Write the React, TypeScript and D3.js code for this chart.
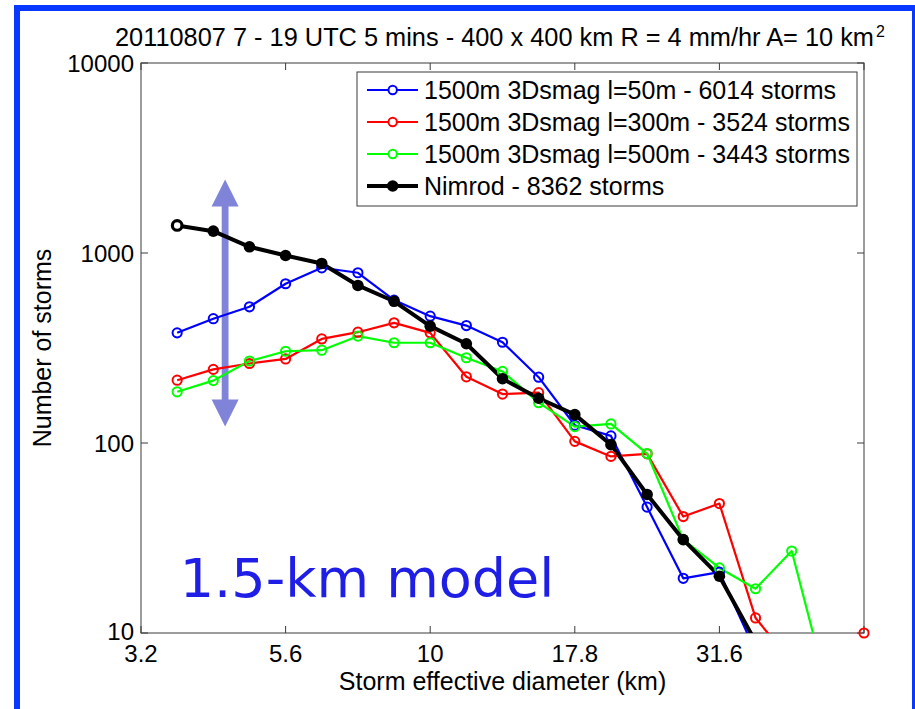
import React from 'react';
import * as d3 from 'd3';

// Storm effective diameter bin centres (km)
const diameters = [3.652, 4.217, 4.870, 5.623, 6.494, 7.499, 8.660, 10, 11.548, 13.335, 15.399, 17.783, 20.535, 23.714, 27.384, 31.623, 36.517, 42.170, 48.697, 56.234];

const blueCounts: (number | null)[] = [380, 451, 521, 689, 836, 787, 565, 465, 415, 339, 222, 124, 109, 46, 19.4, 20.9, 8, null, null, null];
const redCounts: (number | null)[] = [214, 244, 262, 277, 353, 383, 429, 380, 223, 181, 184, 102, 85, 87.7, 41, 48, 12, 7, null, 10];
const greenCounts: (number | null)[] = [186, 213, 270, 304, 308, 365, 337, 337, 281, 238, 163, 122, 126, 88, 31, 22, 17.1, 27, 5, null];
const nimrodCounts: (number | null)[] = [1396, 1303, 1078, 970, 881, 675, 557, 412, 333, 218, 172, 141, 98, 53.6, 31, 19.9, 9, null, null, null];

const seriesNames = [
  '1500m 3Dsmag l=50m - 6014 storms',
  '1500m 3Dsmag l=300m - 3524 storms',
  '1500m 3Dsmag l=500m - 3443 storms',
  'Nimrod - 8362 storms',
];

const xTickValues = [3.1623, 5.6234, 10, 17.783, 31.623, 56.234];
const xTickLabels = ['3.2', '5.6', '10', '17.8', '31.6', ''];
const yTickValues = [10, 100, 1000, 10000];
const yTickLabels = ['10', '100', '1000', '10000'];

// annotation arrow (x in km, y in storm counts)
const arrowX = 4.42;
const arrowTop = 2440;
const arrowBottom = 122;

const FONT = '"Liberation Sans", Arial, Helvetica, sans-serif';

export default function App() {
  const W = 915, H = 709;
  const left = 141, right = 864, top = 63, bottom = 633;
  const x = d3.scaleLog().domain([Math.pow(10, 0.5), Math.pow(10, 1.75)]).range([left, right]);
  const y = d3.scaleLog().domain([10, 10000]).range([bottom, top]);

  const series = [
    { name: seriesNames[0], vals: blueCounts, color: '#0000ff', width: 2.2, black: false },
    { name: seriesNames[1], vals: redCounts, color: '#ff0000', width: 2.2, black: false },
    { name: seriesNames[2], vals: greenCounts, color: '#00ff00', width: 2.2, black: false },
    { name: seriesNames[3], vals: nimrodCounts, color: '#000000', width: 4, black: true },
  ];

  const line = d3
    .line<[number, number | null]>()
    .defined((d) => d[1] != null && (d[1] as number) > 0)
    .x((d) => x(d[0]))
    .y((d) => y(d[1] as number));

  const ax = x(arrowX);
  const at = y(arrowTop);
  const ab = y(arrowBottom);
  const headL = 27, headW = 13.5, shaftW = 3.4;
  const arrowPath = `M${ax},${at} L${ax + headW},${at + headL} L${ax + shaftW},${at + headL} L${ax + shaftW},${ab - headL} L${ax + headW},${ab - headL} L${ax},${ab} L${ax - headW},${ab - headL} L${ax - shaftW},${ab - headL} L${ax - shaftW},${at + headL} L${ax - headW},${at + headL} Z`;

  const legX = 357, legY = 72, legW = 500, legH = 134;
  const rowY = [90, 122, 154, 186];

  const tickLen = 7;
  const axisColor = '#3a3a3a';

  return (
    <svg width={W} height={H} style={{ position: 'absolute', left: 0, top: 0, background: '#fff' }} fontFamily={FONT}>
      <rect x={0} y={0} width={W} height={H} fill="#fff" />
      <defs>
        <clipPath id="plotclip">
          <rect x={left} y={top} width={right - left} height={bottom - top} />
        </clipPath>
      </defs>

      {/* title */}
      <text x={115} y={46} fontSize={25} fill="#000" textLength={759} lengthAdjust="spacingAndGlyphs">
        20110807 7 - 19 UTC 5 mins - 400 x 400 km R = 4 mm/hr A= 10 km
      </text>
      <text x={876} y={37} fontSize={16} fill="#000">2</text>

      {/* axes box */}
      <rect x={left} y={top} width={right - left} height={bottom - top} fill="none" stroke={axisColor} strokeWidth={1} />

      {xTickValues.map((v, i) => (
        <g key={'xt' + i}>
          <line x1={x(v)} x2={x(v)} y1={bottom} y2={bottom - tickLen} stroke={axisColor} />
          <line x1={x(v)} x2={x(v)} y1={top} y2={top + tickLen} stroke={axisColor} />
          <text x={x(v)} y={bottom + 29} fontSize={24} textAnchor="middle">{xTickLabels[i]}</text>
        </g>
      ))}
      {yTickValues.map((v, i) => (
        <g key={'yt' + i}>
          <line x1={left} x2={left + tickLen} y1={y(v)} y2={y(v)} stroke={axisColor} />
          <line x1={right} x2={right - tickLen} y1={y(v)} y2={y(v)} stroke={axisColor} />
          <text x={left - 7} y={y(v) + (i === 0 ? 7 : 8.5)} fontSize={24} textAnchor="end">{yTickLabels[i]}</text>
        </g>
      ))}

      <text x={(left + right) / 2} y={690} fontSize={25} textAnchor="middle">Storm effective diameter (km)</text>
      <text transform={`translate(51,${(top + bottom) / 2}) rotate(-90)`} fontSize={25} textAnchor="middle">Number of storms</text>

      {/* arrow annotation */}
      <path d={arrowPath} fill="#8084d8" />

      {/* series lines */}
      <g clipPath="url(#plotclip)">
        {series.map((s, i) => (
          <path
            key={'l' + i}
            d={line(diameters.map((d, j) => [d, s.vals[j]] as [number, number | null])) || ''}
            fill="none"
            stroke={s.color}
            strokeWidth={s.width}
            strokeLinejoin="round"
          />
        ))}
      </g>
      {series.map((s, i) => (
        <g key={'m' + i}>
          {diameters.map((d, j) => {
            const v = s.vals[j];
            if (v == null || v < 10) return null;
            if (s.black) {
              return j === 0 ? (
                <circle key={j} cx={x(d)} cy={y(v)} r={4.8} fill="#fff" stroke="#000" strokeWidth={3.2} />
              ) : (
                <circle key={j} cx={x(d)} cy={y(v)} r={5.8} fill="#000" />
              );
            }
            return <circle key={j} cx={x(d)} cy={y(v)} r={4.6} fill="none" stroke={s.color} strokeWidth={2} />;
          })}
        </g>
      ))}

      {/* model label */}
      <text x={x(3.69)} y={y(15.4)} fontSize={54} fill="#1e1ee6" fontFamily='"DejaVu Sans", Verdana, sans-serif'>1.5-km model</text>

      {/* legend */}
      <rect x={legX} y={legY} width={legW} height={legH} fill="#fff" stroke={axisColor} strokeWidth={1} />
      {series.map((s, i) => (
        <g key={'lg' + i}>
          <line x1={367} x2={418} y1={rowY[i]} y2={rowY[i]} stroke={s.color} strokeWidth={s.width} />
          {s.black ? (
            <circle cx={392.7} cy={rowY[i]} r={5.8} fill="#000" />
          ) : (
            <circle cx={392.7} cy={rowY[i]} r={4.2} fill="#fff" stroke={s.color} strokeWidth={2} />
          )}
          <text x={424} y={rowY[i] + 9} fontSize={25}>{s.name}</text>
        </g>
      ))}

      {/* blue frame */}
      <rect x={17} y={8} width={898} height={720} fill="none" stroke="#0838ff" strokeWidth={6} />
    </svg>
  );
}
